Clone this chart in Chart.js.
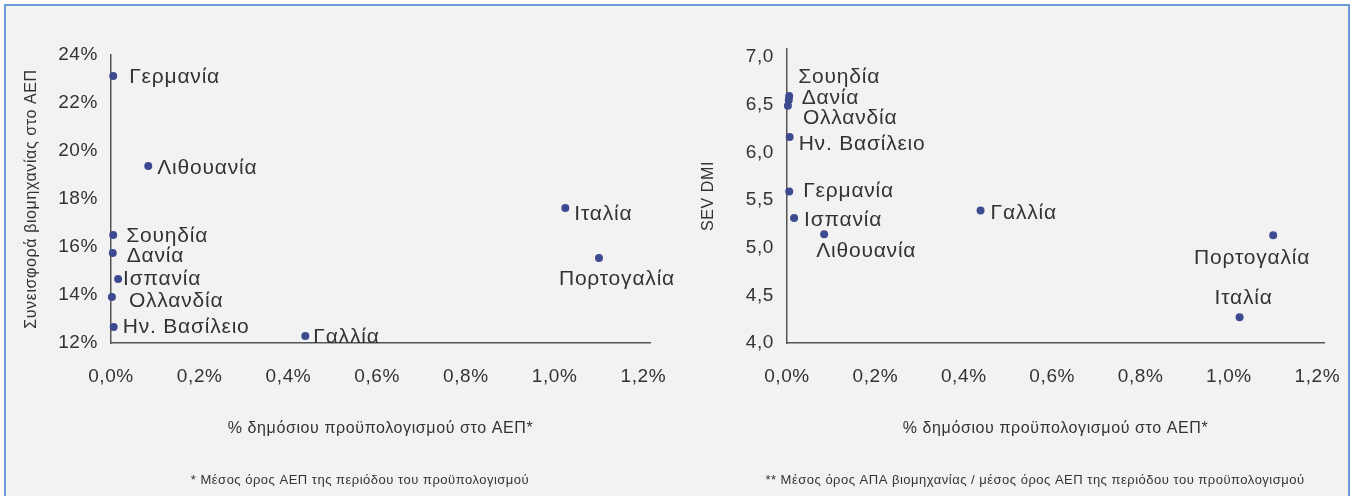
<!DOCTYPE html>
<html>
<head>
<meta charset="utf-8">
<script src="https://cdn.jsdelivr.net/npm/chart.js@4.4.0/dist/chart.umd.min.js"></script>
<style>
	html, body { margin: 0; padding: 0; background: #fff; }
	#frame {
		position: absolute; left: 4px; top: 4px; width: 1346px; height: 510px;
		background: #f2f2f2; border: 2px solid #6b9bd6; box-sizing: border-box;
	}
	.panel { position: absolute; top: 0; height: 496px; }
	#left { left: 0; width: 676px; }
	#right { left: 676px; width: 677px; }
</style>
</head>
<body>
<div id="frame"></div>
<div class="panel" id="left"><canvas id="chart-left"></canvas></div>
<div class="panel" id="right"><canvas id="chart-right"></canvas></div>
<script>
/* Two scatter panels: industry share / SEV DMI vs public budget share */

const countries = ["Γερμανία", "Λιθουανία", "Ιταλία", "Πορτογαλία", "Σουηδία", "Δανία", "Ισπανία", "Ολλανδία", "Ην. Βασίλειο", "Γαλλία"];
// % δημόσιου προϋπολογισμού στο ΑΕΠ
const budgetShare = [0.005, 0.084, 1.024, 1.100, 0.005, 0.004, 0.016, 0.002, 0.006, 0.438];
// Συνεισφορά βιομηχανίας στο ΑΕΠ (%)
const industryShare = [23.13, 19.38, 17.63, 15.54, 16.50, 15.75, 14.67, 13.92, 12.67, 12.29];
// SEV DMI
const sevDmi = [5.59, 5.14, 4.27, 5.13, 6.59, 6.55, 5.31, 6.49, 6.16, 5.39];

const xTickValues = [0, 0.2, 0.4, 0.6, 0.8, 1.0, 1.2];
const xTickLabels = ["0,0%", "0,2%", "0,4%", "0,6%", "0,8%", "1,0%", "1,2%"];
const leftTickValues = [12, 14, 16, 18, 20, 22, 24];
const leftTickLabels = ["12%", "14%", "16%", "18%", "20%", "22%", "24%"];
const rightTickValues = [4.0, 4.5, 5.0, 5.5, 6.0, 6.5, 7.0];
const rightTickLabels = ["4,0", "4,5", "5,0", "5,5", "6,0", "6,5", "7,0"];

const FONT = "'Liberation Sans', Arial, sans-serif";
const TEXT = "#333";
const AXIS = "#555";
const DOT = "#3d4a8f";

// label offsets from each point (style, not data)
const leftPlace = {
	"Γερμανία": [16, 1], "Λιθουανία": [9, 2], "Ιταλία": [9, 6], "Πορτογαλία": [18, 21, "center"],
	"Σουηδία": [13, 1], "Δανία": [14, 3], "Ισπανία": [5, 0], "Ολλανδία": [17, 4],
	"Ην. Βασίλειο": [9, 0], "Γαλλία": [8, 1],
};
const rightPlace = {
	"Σουηδία": [9, -19], "Δανία": [13, -2], "Ολλανδία": [15, 13], "Ην. Βασίλειο": [9, 7],
	"Γερμανία": [14, 0], "Ισπανία": [10, 2], "Λιθουανία": [-8, 17], "Γαλλία": [10, 3],
	"Πορτογαλία": [-21, 23, "center"], "Ιταλία": [4, -19, "center"],
};

// the source font runs a little wider than Liberation Sans
const spacing = {
	id: "spacing",
	beforeDraw(chart) {
		chart.ctx.letterSpacing = "0.6px";
	},
};

const pointLabels = {
	id: "pointLabels",
	afterDatasetsDraw(chart, args, opts) {
		const ctx = chart.ctx;
		const meta = chart.getDatasetMeta(0);
		ctx.save();
		ctx.font = `21px ${FONT}`;
		ctx.letterSpacing = "0.8px";
		ctx.fillStyle = TEXT;
		ctx.textBaseline = "middle";
		meta.data.forEach((pt, i) => {
			const p = opts.place[countries[i]];
			ctx.textAlign = p[2] || "left";
			ctx.fillText(countries[i], pt.x + p[0], pt.y + p[1]);
		});
		ctx.restore();
	},
};

const footnote = {
	id: "footnote",
	afterDraw(chart, args, opts) {
		const ctx = chart.ctx;
		ctx.save();
		ctx.font = `13px ${FONT}`;
		ctx.letterSpacing = "0.5px";
		ctx.fillStyle = TEXT;
		ctx.textAlign = "center";
		ctx.textBaseline = "middle";
		ctx.fillText(opts.text, opts.x, opts.y);
		ctx.restore();
	},
};

function makeChart(canvasId, cfg) {
	return new Chart(document.getElementById(canvasId), {
		type: "scatter",
		data: {
			datasets: [{
				data: budgetShare.map((x, i) => ({ x: x, y: cfg.values[i] })),
				backgroundColor: DOT,
				borderWidth: 0,
				pointRadius: 4,
				clip: false,
			}],
		},
		options: {
			responsive: true,
			maintainAspectRatio: false,
			animation: false,
			events: [],
			layout: { padding: { left: 0, top: cfg.top, right: cfg.right, bottom: 0 } },
			plugins: {
				legend: { display: false },
				tooltip: { enabled: false },
				pointLabels: { place: cfg.place },
				footnote: { text: cfg.note, x: cfg.noteX, y: 480 },
			},
			scales: {
				x: {
					min: 0, max: 1.215,
					afterBuildTicks: s => { s.ticks = xTickValues.map(v => ({ value: v })); },
					afterFit: s => { s.height = 153; s.paddingLeft = 0; s.paddingRight = 0; },
					grid: { display: false, drawTicks: false },
					border: { display: true, color: AXIS, width: 1.5 },
					ticks: {
						padding: 22, color: TEXT, font: { size: 19, family: FONT },
						maxRotation: 0, autoSkip: false,
						callback: (v, i) => xTickLabels[i],
					},
					title: {
						display: true, text: "% δημόσιου προϋπολογισμού στο ΑΕΠ*",
						color: TEXT, font: { size: 16, family: FONT }, padding: { bottom: 58 },
					},
				},
				y: {
					min: cfg.yMin, max: cfg.yMax,
					afterBuildTicks: s => { s.ticks = cfg.yTicks.map(v => ({ value: v })); },
					afterFit: s => { s.width = 111; s.paddingTop = 0; s.paddingBottom = 0; },
					grid: { display: false, drawTicks: false },
					border: { display: true, color: AXIS, width: 1.5 },
					ticks: {
						padding: 13, color: TEXT, font: { size: 19, family: FONT },
						callback: (v, i) => cfg.yLabels[i],
					},
					title: {
						display: true, text: cfg.yTitle,
						color: TEXT, font: { size: 16, family: FONT }, padding: { top: cfg.titlePad },
					},
				},
			},
		},
		plugins: [spacing, pointLabels, footnote],
	});
}

makeChart("chart-left", {
	values: industryShare,
	yMin: 12, yMax: 24, yTicks: leftTickValues, yLabels: leftTickLabels,
	yTitle: "Συνεισφορά βιομηχανίας στο ΑΕΠ", titlePad: 22,
	top: 55, right: 26, place: leftPlace,
	note: "* Μέσος όρος ΑΕΠ της περιόδου του προϋπολογισμού", noteX: 360,
});

makeChart("chart-right", {
	values: sevDmi,
	yMin: 4, yMax: 7.084, yTicks: rightTickValues, yLabels: rightTickLabels,
	yTitle: "SEV DMI", titlePad: 23,
	top: 49, right: 29, place: rightPlace,
	note: "** Μέσος όρος ΑΠΑ βιομηχανίας / μέσος όρος ΑΕΠ της περιόδου του προϋπολογισμού", noteX: 359,
});
</script>
</body>
</html>
